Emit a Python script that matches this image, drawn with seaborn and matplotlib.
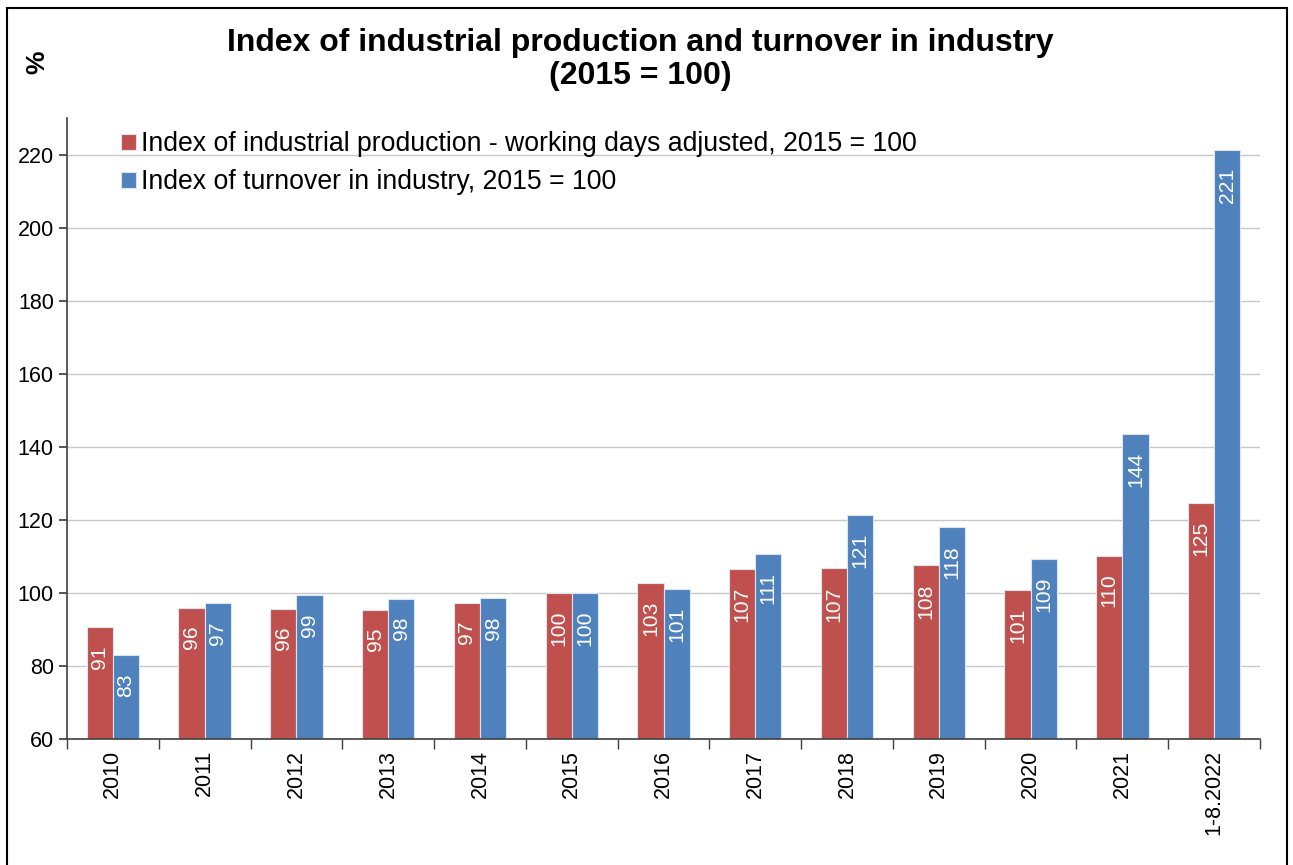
"""Index of industrial production and turnover in industry, grouped bars."""

import seaborn as sns
import matplotlib.pyplot as plt
import matplotlib.patches as mpatches
import pandas as pd
import numpy as np

# Data
periods = ["2010", "2011", "2012", "2013", "2014", "2015", "2016",
           "2017", "2018", "2019", "2020", "2021", "1-8.2022"]
production = [90.6, 95.9, 95.6, 95.4, 97.3, 100.0, 102.7,
              106.6, 106.8, 107.5, 100.9, 110.2, 124.6]
turnover = [82.9, 97.1, 99.3, 98.4, 98.5, 100.0, 101.1,
            110.6, 121.3, 117.9, 109.3, 143.6, 221.2]
series_names = ["Index of industrial production - working days adjusted, 2015 = 100",
                "Index of turnover in industry, 2015 = 100"]
y_ticks = [60, 80, 100, 120, 140, 160, 180, 200, 220]

RED = "#C0504D"
BLUE = "#4F81BD"

sns.set_theme(style="white")
plt.rcParams['font.family'] = ['Liberation Sans', 'DejaVu Sans']
plt.rcParams['text.color'] = 'black'

df = pd.DataFrame({
    "period": periods * 2,
    "value": production + turnover,
    "series": [series_names[0]] * len(periods) + [series_names[1]] * len(periods),
})

fig = plt.figure(figsize=(12.93, 8.65), dpi=100)
ax = fig.add_axes([0.0518, 0.1457, 0.9227, 0.7179])

sns.barplot(
    data=df, x="period", y="value", hue="series",
    order=periods, hue_order=series_names,
    palette=[RED, BLUE], saturation=1, width=0.57,
    edgecolor="#DCE6F2", linewidth=0.8,
    ax=ax,
)

# Value labels inside the bars, rotated
for container, vals in zip(ax.containers, [production, turnover]):
    for bar, v in zip(container, vals):
        ax.annotate(f"{round(v)}",
                    xy=(bar.get_x() + bar.get_width() / 2, bar.get_height()),
                    xytext=(0, -13), textcoords="offset points",
                    rotation=90, ha="center", va="top",
                    color="white", fontsize=15.2)

ax.set_ylim(60, 230)
ax.set_xlim(-0.5, len(periods) - 0.5)
ax.set_yticks(y_ticks)
ax.set_xlabel("")
ax.set_ylabel("")
ax.yaxis.grid(True, color="#C8C8C8", linewidth=1)
ax.set_axisbelow(True)

ax.tick_params(axis="y", labelsize=15.5, length=6, direction="out",
               color="#404040", left=True, labelcolor="black")
ax.set_xticks(range(len(periods)))
ax.set_xticklabels(periods, rotation=90, fontsize=15.5)
ax.tick_params(axis="x", length=0, pad=8, labelcolor="black")
ax.set_xticks(np.arange(-0.5, len(periods), 1), minor=True)
ax.tick_params(axis="x", which="minor", length=7, color="#404040",
               direction="out", bottom=True)

for side in ["top", "right"]:
    ax.spines[side].set_visible(False)
for side in ["left", "bottom"]:
    ax.spines[side].set_color("#404040")
    ax.spines[side].set_linewidth(1.2)

leg = ax.legend(loc="upper left", bbox_to_anchor=(0.034, 1.0), frameon=False,
                fontsize=19.2, handlelength=0.55, handleheight=0.55,
                handletextpad=0.2, labelspacing=0.45, borderaxespad=0.1)
for t in leg.get_texts():
    t.set_color("black")
ax.set_ylim(60, 230)

fig.text(0.495, 0.968, "Index of industrial production and turnover in industry\n(2015 = 100)",
         ha="center", va="top", fontsize=23, fontweight="bold", linespacing=1.15)
fig.text(0.029, 0.928, "%", rotation=90, ha="center", va="center",
         fontsize=19, fontweight="bold")

# Frame around the whole chart
frame = mpatches.Rectangle((7 / 1293, -0.02), 1280 / 1293, 1 - 8 / 865 + 0.02,
                           transform=fig.transFigure, fill=False,
                           edgecolor="black", linewidth=1.5)
fig.patches.append(frame)

fig.savefig("out.png", dpi=100)
